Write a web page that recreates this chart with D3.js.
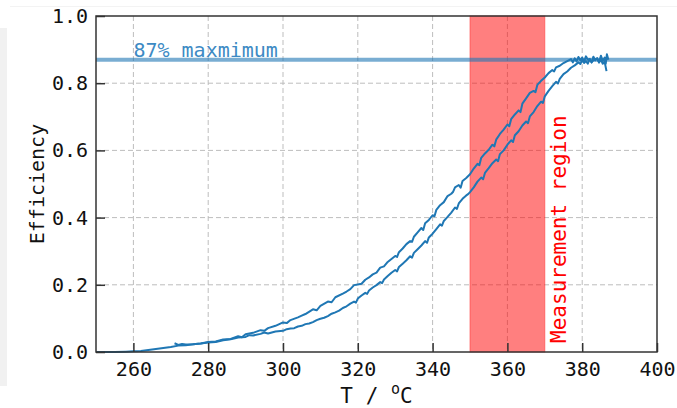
<!DOCTYPE html>
<html>
<head>
<meta charset="utf-8">
<script src="https://cdn.jsdelivr.net/npm/d3@7"></script>
<style>
  body { margin: 0; background: #fff; }
  text { font-family: "DejaVu Sans Mono", monospace; }
</style>
</head>
<body>
<svg id="chart" width="677" height="408"></svg>
<script>
// efficiency vs temperature, two sweeps (T in degC, efficiency 0..1)
var sweepUp = [
  [250,0.000],[255,0.000],[258,0.001],[260,0.002],[262,0.003],[264,0.006],[266,0.009],[268,0.012],
  [270,0.015],[272,0.019],[274,0.020],[276,0.023],[278,0.025],[280,0.028],[282,0.030],[284,0.035],
  [286,0.038],[288,0.043],[290,0.045],[291,0.050],[292,0.049],[294,0.054],[295,0.058],[296,0.055],
  [298,0.061],[300,0.063],[301,0.068],[302,0.070],[303,0.071],[304,0.076],[305,0.078],[306,0.083],
  [307,0.085],[308,0.089],[309,0.095],[310,0.099],[311,0.102],[312,0.107],[313,0.114],[314,0.118],
  [315,0.123],[316,0.131],[317,0.136],[318,0.144],[319,0.150],[319.5,0.147],[320,0.159],
  [321,0.168],[322,0.176],[322.5,0.173],[323,0.183],[324,0.192],[325,0.199],[326,0.208],[326.5,0.205],
  [327,0.216],[328,0.226],[329,0.236],[330,0.244],[330.5,0.240],[331,0.253],[332,0.263],[333,0.273],
  [334,0.285],[334.5,0.281],[335,0.295],[336,0.306],[337,0.317],[338,0.330],[338.5,0.325],[339,0.341],
  [340,0.352],[341,0.366],[342,0.380],[342.5,0.376],[343,0.390],[344,0.402],[345,0.415],[346,0.430],
  [346.5,0.426],[347,0.442],[348,0.456],[349,0.466],[349.5,0.470],[350,0.476],[351,0.490],[352,0.507],
  [353,0.519],[353.5,0.514],[354,0.533],[355,0.547],[356,0.562],[357,0.573],[357.5,0.568],[358,0.589],
  [359,0.600],[360,0.617],[361,0.630],[361.5,0.625],[362,0.645],[363,0.657],[364,0.674],[365,0.686],
  [365.5,0.681],[366,0.701],[367,0.714],[368,0.732],[369,0.745],[369.5,0.741],[370,0.761],[371,0.777],
  [372,0.791],[373,0.804],[373.5,0.799],[374,0.813],[375,0.827],[376,0.835],[377,0.846],[378,0.853],
  [379,0.862],[379.5,0.857],[380,0.868],[380.5,0.860],[381,0.866],[381.5,0.858],[382,0.872],[382.5,0.862],
  [383,0.868],[384,0.874],[384.5,0.862],[385,0.870],[385.5,0.858],[386,0.864],[386.5,0.836]
];

var sweepDown = [
  [271,0.026],[272,0.021],[273,0.024],[274,0.022],[276,0.023],[278,0.025],[280,0.030],[282,0.031],
  [284,0.037],[286,0.039],[288,0.047],[289,0.044],[290,0.053],[292,0.057],[294,0.065],[295,0.063],
  [296,0.071],[298,0.078],[300,0.088],[301,0.086],[302,0.095],[304,0.103],[305,0.108],[306,0.113],
  [308,0.127],[309,0.124],[310,0.137],[312,0.150],[313,0.148],[314,0.163],[316,0.174],[317,0.180],
  [318,0.187],[319,0.199],[320,0.201],[321,0.203],[322,0.215],[323,0.222],[324,0.231],[325,0.236],
  [326,0.251],[327,0.255],[328,0.268],[329,0.277],[330,0.286],[330.5,0.283],[331,0.297],[332,0.308],
  [333,0.321],[334,0.330],[334.5,0.328],[335,0.343],[336,0.356],[337,0.369],[337.5,0.363],[338,0.383],
  [339,0.393],[340,0.407],[340.5,0.404],[341,0.423],[342,0.437],[343,0.446],[344,0.464],[345,0.471],
  [345.5,0.477],[346,0.490],[347,0.497],[347.5,0.489],[348,0.509],[349,0.518],[350,0.529],[351,0.546],
  [352,0.560],[352.5,0.556],[353,0.578],[354,0.591],[355,0.602],[356,0.617],[356.5,0.612],[357,0.632],
  [358,0.649],[359,0.662],[360,0.677],[360.5,0.672],[361,0.693],[362,0.707],[363,0.719],[363.5,0.714],
  [364,0.739],[365,0.755],[366,0.771],[367,0.777],[367.5,0.773],[368,0.795],[369,0.807],[370,0.817],
  [371,0.830],[372,0.839],[372.5,0.835],[373,0.847],[374,0.852],[375,0.860],[376,0.866],[377,0.872],
  [377.5,0.862],[378,0.874],[378.5,0.865],[379,0.878],[379.5,0.868],[380,0.876],[380.5,0.864],[381,0.880],
  [381.5,0.870],[382,0.872],[382.5,0.862],[383,0.879],[383.5,0.868],[384,0.874],[384.5,0.862],[385,0.882],
  [385.5,0.866],[386,0.876],[386.3,0.858],[386.6,0.886],[387,0.870]
];

var xTicks = [260, 280, 300, 320, 340, 360, 380, 400];
var yTicks = [0.0, 0.2, 0.4, 0.6, 0.8, 1.0];
var region = [350, 370];
var maxEff = 0.87;

var margin = {top: 16, right: 20, bottom: 56, left: 96};
var width = 677, height = 408;
var w = width - margin.left - margin.right;
var h = height - margin.top - margin.bottom;

var svg = d3.select('#chart');

// faint screenshot edge
svg.append('rect').attr('x', 0).attr('y', 28).attr('width', 7).attr('height', 358).attr('fill', '#f1f1f1');
svg.append('line').attr('x1', 10).attr('x2', width).attr('y1', 6.5).attr('y2', 6.5)
  .attr('stroke', '#f3f3f3');

var g = svg.append('g').attr('transform', 'translate(' + margin.left + ',' + margin.top + ')');

var x = d3.scaleLinear().domain([250, 400]).range([0, w]);
var y = d3.scaleLinear().domain([0, 1]).range([h, 0]);

// grid
g.append('g').selectAll('line').data(xTicks.slice(0, -1)).enter().append('line')
  .attr('x1', function(d) { return x(d); }).attr('x2', function(d) { return x(d); })
  .attr('y1', 0).attr('y2', h)
  .attr('stroke', '#bdbdbd').attr('stroke-width', 1).attr('stroke-dasharray', '5,3');
g.append('g').selectAll('line').data(yTicks.slice(1, -1)).enter().append('line')
  .attr('x1', 0).attr('x2', w)
  .attr('y1', function(d) { return y(d); }).attr('y2', function(d) { return y(d); })
  .attr('stroke', '#bdbdbd').attr('stroke-width', 1).attr('stroke-dasharray', '5,3');

// measurement band
g.append('rect')
  .attr('x', x(region[0])).attr('width', x(region[1]) - x(region[0]))
  .attr('y', 0).attr('height', h)
  .attr('fill', 'red').attr('fill-opacity', 0.5)
  .attr('stroke', '#ff4040').attr('stroke-opacity', 0.6).attr('stroke-width', 1);

// 87% line
g.append('line')
  .attr('x1', 0).attr('x2', w)
  .attr('y1', y(maxEff)).attr('y2', y(maxEff))
  .attr('stroke', '#1f77b4').attr('stroke-opacity', 0.6).attr('stroke-width', 4);

var line = d3.line()
  .x(function(d) { return x(d[0]); })
  .y(function(d) { return y(d[1]); });

[sweepUp, sweepDown].forEach(function(s) {
  g.append('path').datum(s)
    .attr('d', line)
    .attr('fill', 'none')
    .attr('stroke', '#1f77b4')
    .attr('stroke-width', 2)
    .attr('stroke-linejoin', 'round');
});

g.append('text')
  .attr('x', x(260)).attr('y', y(0.878))
  .attr('fill', '#3d8ac4').attr('font-size', 20)
  .text('87% maxmimum');

g.append('text')
  .attr('transform', 'translate(' + (x(region[1]) + 21) + ',' + y(0.027) + ') rotate(-90)')
  .attr('fill', 'red').attr('font-size', 21)
  .text('Measurement region');

// axes, ticks pointing in
var xAxis = g.append('g').attr('transform', 'translate(0,' + h + ')')
  .call(d3.axisBottom(x).tickValues(xTicks).tickSize(-9).tickPadding(10).tickFormat(d3.format('d')));
var yAxis = g.append('g')
  .call(d3.axisLeft(y).tickValues(yTicks).tickSize(-9).tickPadding(8).tickFormat(d3.format('.1f')));

[xAxis, yAxis].forEach(function(a) {
  a.select('.domain').remove();
  a.selectAll('line').attr('stroke', '#333').attr('stroke-width', 1.5);
  a.selectAll('text').attr('fill', '#111').attr('font-size', 20)
    .attr('font-family', '"DejaVu Sans Mono", monospace');
});

// frame
g.append('rect').attr('width', w).attr('height', h)
  .attr('fill', 'none').attr('stroke', '#333').attr('stroke-width', 1.5);

g.append('text')
  .attr('transform', 'translate(-52,' + (h / 2) + ') rotate(-90)')
  .attr('text-anchor', 'middle').attr('font-size', 20).attr('fill', '#111')
  .text('Efficiency');

var xl = g.append('text')
  .attr('x', w / 2).attr('y', h + 51)
  .attr('text-anchor', 'middle').attr('font-size', 21).attr('fill', '#111');
xl.append('tspan').text('T / ');
xl.append('tspan').attr('font-size', 15).attr('dy', -9).text('o');
xl.append('tspan').attr('dy', 9).text('C');
</script>
</body>
</html>
